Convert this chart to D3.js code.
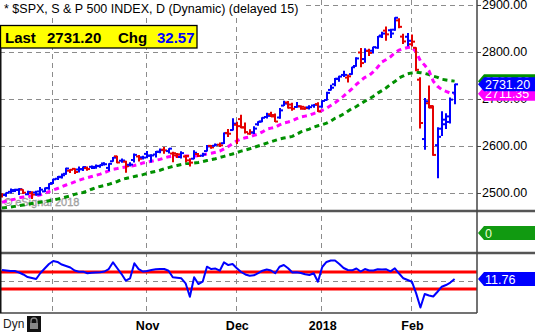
<!DOCTYPE html>
<html><head><meta charset="utf-8">
<script src="https://cdn.jsdelivr.net/npm/d3@7"></script>
<style>
body{margin:0;background:#fff;}
svg{display:block;font-family:"Liberation Sans",Arial,sans-serif;}
</style>
</head><body>
<svg id="c" width="535" height="334"></svg>
<script>
// ---------------- DATA ----------------
const dates = [
"2017-09-14","2017-09-15","2017-09-18","2017-09-19","2017-09-20","2017-09-21","2017-09-22","2017-09-25","2017-09-26","2017-09-27","2017-09-28","2017-09-29",
"2017-10-02","2017-10-03","2017-10-04","2017-10-05","2017-10-06","2017-10-09","2017-10-10","2017-10-11","2017-10-12","2017-10-13","2017-10-16","2017-10-17","2017-10-18","2017-10-19","2017-10-20","2017-10-23","2017-10-24","2017-10-25","2017-10-26","2017-10-27","2017-10-30","2017-10-31",
"2017-11-01","2017-11-02","2017-11-03","2017-11-06","2017-11-07","2017-11-08","2017-11-09","2017-11-10","2017-11-13","2017-11-14","2017-11-15","2017-11-16","2017-11-17","2017-11-20","2017-11-21","2017-11-22","2017-11-24","2017-11-27","2017-11-28","2017-11-29","2017-11-30",
"2017-12-01","2017-12-04","2017-12-05","2017-12-06","2017-12-07","2017-12-08","2017-12-11","2017-12-12","2017-12-13","2017-12-14","2017-12-15","2017-12-18","2017-12-19","2017-12-20","2017-12-21","2017-12-22","2017-12-26","2017-12-27","2017-12-28","2017-12-29",
"2018-01-02","2018-01-03","2018-01-04","2018-01-05","2018-01-08","2018-01-09","2018-01-10","2018-01-11","2018-01-12","2018-01-16","2018-01-17","2018-01-18","2018-01-19","2018-01-22","2018-01-23","2018-01-24","2018-01-25","2018-01-26","2018-01-29","2018-01-30","2018-01-31",
"2018-02-01","2018-02-02","2018-02-05","2018-02-06","2018-02-07","2018-02-08","2018-02-09","2018-02-12","2018-02-13","2018-02-14","2018-02-15"];

const open = [
2494.56,2495.67,2502.51,2506.29,2506.84,2507.16,2497.26,2499.39,2501.04,2503.30,2503.41,2510.74,
2521.20,2530.34,2533.48,2540.86,2547.44,2551.39,2549.99,2550.62,2552.88,2555.66,2555.57,2557.17,2562.87,2553.39,2567.56,2578.08,2568.66,2566.52,2560.08,2570.26,2577.75,2575.99,
2583.21,2579.46,2581.93,2587.47,2592.11,2589.16,2584.00,2580.18,2576.53,2577.75,2569.45,2572.95,2582.94,2579.49,2589.17,2600.31,2600.42,2602.66,2605.94,2627.82,2633.93,
2645.10,2657.19,2639.78,2626.24,2628.38,2646.21,2652.19,2661.73,2667.59,2665.87,2660.63,2685.92,2692.71,2688.18,2683.02,2684.22,2679.09,2682.10,2686.10,2689.15,
2683.73,2697.85,2719.31,2731.33,2742.67,2751.15,2745.55,2752.97,2770.18,2798.96,2784.99,2802.40,2802.60,2809.16,2835.05,2845.42,2846.24,2847.48,2867.23,2832.74,2832.41,
2816.45,2808.92,2741.06,2614.78,2690.95,2685.01,2601.78,2636.75,2646.27,2651.21,2713.46];
const high = [
2498.43,2500.23,2508.32,2507.84,2508.85,2507.16,2503.47,2502.54,2503.51,2511.75,2510.81,2519.44,
2529.23,2535.13,2540.53,2552.51,2549.41,2551.82,2555.23,2555.24,2555.33,2557.65,2559.47,2559.71,2564.11,2562.36,2575.44,2578.29,2572.18,2567.40,2564.24,2582.98,2580.03,2578.29,
2588.40,2581.11,2588.42,2593.38,2597.02,2594.38,2586.50,2583.81,2587.66,2579.66,2572.84,2590.09,2583.96,2584.64,2601.19,2600.94,2604.21,2606.41,2627.69,2634.89,2657.74,
2650.62,2665.19,2648.72,2634.41,2640.99,2651.65,2660.33,2669.72,2671.88,2668.09,2679.63,2694.97,2694.44,2691.01,2692.64,2685.35,2682.74,2685.64,2687.66,2692.12,
2695.89,2714.37,2729.29,2743.45,2748.51,2759.14,2750.80,2767.56,2787.85,2807.54,2807.04,2805.83,2810.33,2833.03,2842.24,2852.97,2848.56,2872.87,2870.62,2837.75,2839.26,
2835.96,2808.92,2745.00,2701.04,2727.67,2685.27,2638.67,2672.61,2668.84,2702.10,2731.51];
const low = [
2491.35,2493.16,2499.92,2503.19,2496.67,2499.00,2496.54,2488.03,2495.12,2495.91,2502.93,2507.99,
2520.40,2528.85,2531.80,2540.02,2543.79,2541.60,2544.86,2547.95,2548.31,2552.09,2552.64,2554.69,2559.67,2547.92,2567.56,2564.33,2565.58,2544.00,2557.45,2565.94,2568.25,2572.15,
2574.92,2566.17,2576.77,2585.66,2584.35,2585.23,2566.33,2575.57,2574.48,2566.56,2557.45,2572.95,2577.62,2578.24,2589.17,2595.23,2600.42,2598.87,2605.44,2620.32,2633.93,
2605.52,2639.03,2627.73,2624.75,2626.53,2644.10,2651.47,2659.78,2662.85,2652.01,2659.14,2685.92,2680.74,2676.11,2682.40,2678.13,2677.96,2678.91,2682.69,2673.61,
2682.36,2697.77,2719.07,2727.92,2737.60,2747.86,2736.06,2752.78,2769.64,2768.64,2778.38,2792.56,2798.08,2808.12,2830.59,2824.81,2830.94,2846.18,2851.48,2818.27,2813.04,
2812.70,2759.97,2638.17,2593.07,2681.33,2580.56,2532.69,2622.45,2637.08,2648.87,2689.82];
const close = [
2495.62,2500.23,2503.87,2506.65,2508.24,2500.60,2502.22,2496.66,2496.84,2507.04,2510.06,2519.36,
2529.12,2534.58,2537.74,2552.07,2549.33,2544.73,2550.64,2555.24,2550.93,2553.17,2557.64,2559.36,2561.26,2562.10,2575.21,2564.98,2569.13,2557.15,2560.40,2581.07,2572.83,2575.26,
2579.36,2579.85,2587.84,2591.13,2590.64,2594.38,2584.62,2582.30,2584.84,2578.87,2564.62,2585.64,2578.85,2582.14,2599.03,2597.08,2602.42,2601.42,2627.04,2626.07,2647.58,
2642.22,2639.44,2629.57,2629.27,2636.98,2651.50,2659.99,2664.11,2662.85,2652.01,2675.81,2690.16,2681.47,2679.25,2684.57,2683.34,2680.50,2682.62,2687.54,2673.61,
2695.81,2713.06,2723.99,2743.15,2747.71,2751.29,2748.23,2767.56,2786.24,2776.42,2802.56,2798.03,2810.30,2832.97,2839.13,2837.54,2839.25,2872.87,2853.53,2822.43,2823.81,
2821.98,2762.13,2648.94,2695.14,2681.66,2581.00,2619.55,2656.00,2662.94,2698.63,2731.20];
const prevCloseFirst = 2498.37;

// magenta (fast) moving average
const maFast = [
2480,2483,2485,2487,2490,2491.5,2492.5,2493.5,2494.5,2496,2499,2503,
2506.5,2509.5,2513.5,2517,2520,2523.5,2527,2530,2532.5,2535,2537.5,2540,2543.5,2547,2550.5,2552,2554,2555.5,2557,2558.5,2560.5,2564,
2566,2567.5,2569.5,2571.5,2574.5,2577,2578.3,2578.7,2578.7,2578.7,2578.5,2578.7,2579.5,2581.5,2583,2584.5,2586.5,2589,2594,2599,2605,
2611,2615,2617.5,2619.5,2622.5,2625.5,2630,2636,2638,2640,2645,2649,2651,2653.5,2658,2661.7,2663.5,2665.5,2669,2672.3,
2676,2680,2686,2692,2699,2706,2714,2722,2731,2739,2746,2750,2758,2768,2779,2784,2790,2798,2804,2807,2809.5,
2810.5,2800,2781,2772,2760,2738,2727,2720,2716,2712.5,2711.35];
// green (slow) moving average
const maSlow = [
2468,2469,2470,2471.5,2473,2474.5,2476,2477.5,2479,2480.5,2482,2483.5,
2485,2487,2489,2491.5,2494,2497,2499.5,2501,2504,2508,2511.5,2514,2516,2518.5,2521.5,2524.5,2528.5,2531,2533,2535,2537,2539,
2541.5,2544,2546,2548.5,2551.5,2554,2556.5,2558.5,2560.5,2562.5,2563,2564,2565,2567,2569,2571,2573,2575.5,2578,2580.5,2583,
2586,2589,2591.5,2594,2597,2600,2603,2606,2609,2612,2615,2617,2618.5,2620.5,2625,2630,2633,2636,2640,2643,
2645.5,2648.5,2653,2659,2663,2668,2674,2680,2684,2690,2695.5,2700,2706,2712.5,2718,2724,2731,2737,2745,2749,2753.5,
2755.5,2757,2756,2754.5,2752,2748.5,2746,2742,2740.5,2739,2738];
// lower-panel indicator
const indicator = [
22.4,21.8,21.2,21.2,19.4,17.1,14.1,12.9,11.8,18.8,24.1,29.4,
32.9,31.8,28.8,27.1,25.3,21.8,20.4,20.4,18.5,19.1,19.4,19.6,20.6,23.5,31.4,24.4,17.6,9.8,12.6,30.2,23.5,20.6,
21.2,22.4,23.2,23.5,23.5,21.5,13.8,13.2,12.6,6.7,-9.1,13.8,5.9,8.6,26.2,23.5,24.1,21.5,31.4,28.2,29.4,
24.4,20,17.1,15.6,16.1,18.8,21.5,22.9,21.8,18.5,26.2,28.2,24.4,19.4,19.6,18.8,17.3,16.5,18.5,8.6,
25.9,31.8,33.5,33.5,29.4,24.7,22.4,22,24.1,20.6,23.5,21.8,21.8,23.2,22.9,23.2,20.8,24.4,18.2,12.6,10.6,
8.6,-5.1,-21.8,-5.9,-7.6,-8.8,-3.2,2.7,4.7,7.6,11.76];
const indicatorBands = [0, 20];
const indicatorGrid = [10];
const panel2Value = 0;

const priceTicks = [2500, 2600, 2700, 2800, 2900];
const monthTicks = ["2017-10-02","2017-11-01","2017-12-01","2018-01-02","2018-02-01"];
const monthLabels = ["", "Nov", "Dec", "2018", "Feb"];
const titleText = "* $SPX, S & P 500 INDEX, D (Dynamic) (delayed 15)";
const watermark = "\u00A9 eSignal 2018";

// ---------------- CHART ----------------
const svg = d3.select("#c");
const W = 535, plotR = 477;
const pTop = 0, pBot = 211, p2Bot = 253, p3Bot = 313;
const BLUE = "#0000ff", RED = "#e50000", MAG = "#ff00ff", GRN = "#009000";

const x = d3.scalePoint().domain(dates).range([2, 454.6]);
const yP = d3.scaleLinear().domain([2461.7, 2910.6]).range([pBot, pTop]);
const yI = d3.scaleLinear().domain([-28.2, 42.35]).range([p3Bot, p2Bot]);

// grid: vertical month lines
svg.append("g").selectAll("line").data(monthTicks).join("line")
  .attr("x1", d => Math.round(x(d)) - 0.5).attr("x2", d => Math.round(x(d)) - 0.5)
  .attr("y1", 0).attr("y2", p3Bot)
  .attr("stroke", "#8c8c8c").attr("stroke-width", 1).attr("stroke-dasharray", "5,4");

// grid: horizontal price lines
svg.append("g").selectAll("line").data(priceTicks).join("line")
  .attr("x1", 0).attr("x2", plotR)
  .attr("y1", d => Math.round(yP(d)) + 0.5).attr("y2", d => Math.round(yP(d)) + 0.5)
  .attr("stroke", "#8c8c8c").attr("stroke-width", 1).attr("stroke-dasharray", "5,4");

// indicator grid
svg.append("g").selectAll("line").data(indicatorGrid).join("line")
  .attr("x1", 0).attr("x2", plotR)
  .attr("y1", d => Math.round(yI(d)) + 0.5).attr("y2", d => Math.round(yI(d)) + 0.5)
  .attr("stroke", "#8c8c8c").attr("stroke-width", 1).attr("stroke-dasharray", "5,4");

// title with white background
const title = svg.append("text").attr("x", 4).attr("y", 13)
  .attr("font-size", 12.5).attr("fill", "#000").text(titleText);
const tb = title.node().getBBox();
svg.insert("rect", "text").attr("x", 0).attr("y", 0).attr("width", tb.width + 8).attr("height", 17).attr("fill", "#fff");

// watermark
svg.append("text").attr("x", 4).attr("y", 206).attr("font-size", 11)
  .attr("fill", "#b4b4b4").attr("stroke", "#8a8a8a").attr("stroke-width", 0.3).text(watermark);

// clip for price panel
svg.append("clipPath").attr("id", "pclip").append("rect")
  .attr("x", 0).attr("y", 0).attr("width", plotR).attr("height", pBot);
const pg = svg.append("g").attr("clip-path", "url(#pclip)");

// moving averages
const lineFn = arr => d3.line().x((d, i) => x(dates[i])).y(d => yP(d))(arr);
pg.append("path").attr("d", lineFn(maSlow)).attr("fill", "none")
  .attr("stroke", GRN).attr("stroke-width", 3).attr("stroke-dasharray", "5,4");
pg.append("path").attr("d", lineFn(maFast)).attr("fill", "none")
  .attr("stroke", MAG).attr("stroke-width", 3).attr("stroke-dasharray", "5,4");

// OHLC bars
const bars = pg.append("g");
dates.forEach((d, i) => {
  const pc = i === 0 ? prevCloseFirst : close[i - 1];
  const col = close[i] >= pc ? BLUE : RED;
  const cx = Math.round(x(d));
  bars.append("line").attr("x1", cx).attr("x2", cx)
    .attr("y1", yP(high[i]) - 0.5).attr("y2", yP(low[i]) + 0.5)
    .attr("stroke", col).attr("stroke-width", 2);
  bars.append("line").attr("x1", cx - 3).attr("x2", cx)
    .attr("y1", yP(open[i])).attr("y2", yP(open[i]))
    .attr("stroke", col).attr("stroke-width", 2);
  bars.append("line").attr("x1", cx).attr("x2", cx + 3)
    .attr("y1", yP(close[i])).attr("y2", yP(close[i]))
    .attr("stroke", col).attr("stroke-width", 2);
});

// yellow "Last" box
const box = svg.append("g");
box.append("rect").attr("x", 0.5).attr("y", 25.5).attr("width", 196.5).attr("height", 22.5)
  .attr("fill", "#ffff00").attr("stroke", "#000").attr("stroke-width", 1.3);
const lastClose = close[close.length - 1];
const chg = lastClose - close[close.length - 2];
box.append("text").attr("x", 5).attr("y", 42.5).attr("font-size", 15).attr("font-weight", "bold").text("Last");
box.append("text").attr("x", 47).attr("y", 42.5).attr("font-size", 15).attr("font-weight", "bold").text(d3.format(".2f")(lastClose));
box.append("text").attr("x", 118).attr("y", 42.5).attr("font-size", 15).attr("font-weight", "bold").text("Chg");
box.append("text").attr("x", 157).attr("y", 42.5).attr("font-size", 15).attr("font-weight", "bold").attr("fill", BLUE).text(d3.format(".2f")(chg));

// indicator red bands
svg.append("g").selectAll("line").data(indicatorBands).join("line")
  .attr("x1", 0).attr("x2", plotR)
  .attr("y1", d => yI(d)).attr("y2", d => yI(d))
  .attr("stroke", "#ff0000").attr("stroke-width", 3);

// indicator line
svg.append("path").attr("fill", "none").attr("stroke", BLUE).attr("stroke-width", 2)
  .attr("stroke-linejoin", "round")
  .attr("d", d3.line().x((d, i) => x(dates[i])).y(d => yI(d))(indicator));

// panel separators and frame
svg.append("line").attr("x1", 0).attr("x2", W).attr("y1", pBot).attr("y2", pBot).attr("stroke", "#555").attr("stroke-width", 2.6);
svg.append("line").attr("x1", 0).attr("x2", W).attr("y1", p2Bot).attr("y2", p2Bot).attr("stroke", "#555").attr("stroke-width", 2.6);
svg.append("line").attr("x1", 0).attr("x2", plotR).attr("y1", p3Bot).attr("y2", p3Bot).attr("stroke", "#444").attr("stroke-width", 1.5);
svg.append("line").attr("x1", plotR).attr("x2", plotR).attr("y1", 0).attr("y2", p3Bot).attr("stroke", "#444").attr("stroke-width", 1.5);
svg.append("line").attr("x1", 0.75).attr("x2", 0.75).attr("y1", 48).attr("y2", p3Bot).attr("stroke", "#111").attr("stroke-width", 1.5);

// right price axis
const ax = svg.append("g").attr("transform", `translate(${plotR},0)`)
  .call(d3.axisRight(yP).tickValues(priceTicks).tickFormat(d3.format(".2f")).tickSize(4).tickPadding(1));
ax.select(".domain").remove();
ax.selectAll("line").attr("stroke", "#444");
ax.selectAll("text").attr("font-size", 12.5).attr("font-family", "Liberation Sans, Arial, sans-serif").attr("fill", "#000");

// right value labels
function tag(val, yv, color, txt, txtColor) {
  const h = 7;
  svg.append("path")
    .attr("d", `M${plotR + 1},${yv} L${plotR + 7},${yv - h} L${W},${yv - h} L${W},${yv + h} L${plotR + 7},${yv + h} Z`)
    .attr("fill", color);
  svg.append("text").attr("x", plotR + 8).attr("y", yv + 4.5).attr("font-size", 12.5)
    .attr("fill", txtColor).text(txt);
}
tag(maSlow[maSlow.length - 1], yP(maSlow[maSlow.length - 1]), GRN, d3.format(".2f")(maSlow[maSlow.length - 1]), "#fff");
tag(maFast[maFast.length - 1], yP(maFast[maFast.length - 1]), MAG, d3.format(".2f")(maFast[maFast.length - 1]), "#fff");
tag(lastClose, yP(lastClose), BLUE, d3.format(".2f")(lastClose), "#fff");
tag(panel2Value, 233, "#119a11", String(panel2Value), "#eaffd0");
tag(indicator[indicator.length - 1], yI(indicator[indicator.length - 1]), BLUE, d3.format(".2f")(indicator[indicator.length - 1]), "#fff");

// bottom axis
const bx = svg.append("g").attr("transform", `translate(0,${p3Bot})`)
  .call(d3.axisBottom(x).tickValues(monthTicks).tickSize(0).tickPadding(8)
    .tickFormat((d, i) => monthLabels[i]));
bx.select(".domain").remove();
bx.selectAll("text").attr("font-size", 12.5).attr("font-weight", "bold")
  .attr("font-family", "Liberation Sans, Arial, sans-serif").attr("fill", "#000");

// Dyn + lock icon
svg.append("text").attr("x", 3).attr("y", 328).attr("font-size", 12).attr("fill", "#222").text("Dyn");
svg.append("rect").attr("x", 27).attr("y", 316).attr("width", 14).attr("height", 16).attr("fill", "#111");
svg.append("path").attr("d", "M31,323 v-2 a3,3 0 0 1 6,0 v2").attr("fill", "none").attr("stroke", "#888").attr("stroke-width", 1.3);
svg.append("rect").attr("x", 30).attr("y", 323).attr("width", 8).attr("height", 6).attr("fill", "#888");
</script>
</body></html>
